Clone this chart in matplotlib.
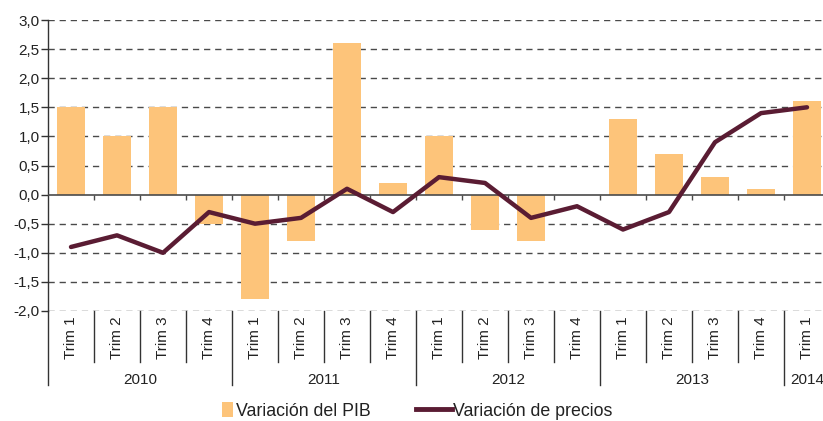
import matplotlib.pyplot as plt
from matplotlib.patches import Patch
from matplotlib.lines import Line2D
import matplotlib.transforms as mtransforms

plt.rcParams['font.family'] = ['Liberation Sans', 'DejaVu Sans']

years = ['2010', '2011', '2012', '2013', '2014']
quarters = ['Trim 1', 'Trim 2', 'Trim 3', 'Trim 4'] * 4 + ['Trim 1']
pib = [1.5, 1.0, 1.5, -0.5, -1.8, -0.8, 2.6, 0.2, 1.0, -0.6, -0.8, 0.0, 1.3, 0.7, 0.3, 0.1, 1.6]
precios = [-0.9, -0.7, -1.0, -0.3, -0.5, -0.4, 0.1, -0.3, 0.3, 0.2, -0.4, -0.2, -0.6, -0.3, 0.9, 1.4, 1.5]
yticks = [-2.0, -1.5, -1.0, -0.5, 0.0, 0.5, 1.0, 1.5, 2.0, 2.5, 3.0]

bar_color = '#fdc47a'
line_color = '#5a1c33'
axis_color = '#333333'
text_color = '#222222'

W, H = 823, 421
fig = plt.figure(figsize=(W / 100, H / 100), dpi=100)
ax = fig.add_axes([48 / W, 110 / H, (830 - 48) / W, 291 / H])

n = len(pib)
x = list(range(n))
ax.bar(x, pib, width=0.59, color=bar_color, zorder=2)
ax.plot(x, precios, color=line_color, lw=3.2, solid_capstyle='round',
        solid_joinstyle='round', zorder=4)

ax.set_xlim(-0.5, n - 0.5)
ax.set_ylim(-2.0, 3.0)
ax.set_yticks(yticks)
ax.set_yticklabels([f'{v:.1f}'.replace('.', ',') for v in yticks], fontsize=11, color=text_color)
ax.set_xticks([])

for v in yticks:
    if v != 0:
        ax.axhline(v, color='#4a4a4a', lw=1.0, ls=(0, (4.5, 3.5)), zorder=1)
ax.axhline(0, color='#4a4a4a', lw=1.2, zorder=3)
ax.vlines([i - 0.5 for i in range(1, n)], -0.09, 0, color='#4a4a4a', lw=1.0, zorder=3)

for s in ['top', 'right', 'bottom']:
    ax.spines[s].set_visible(False)
ax.spines['left'].set_color(axis_color)
ax.spines['left'].set_linewidth(1.0)
ax.tick_params(axis='y', length=5, width=1.0, color=axis_color, pad=1)

# category axis below the plot
trans = mtransforms.blended_transform_factory(ax.transData, ax.transAxes)
for i, q in enumerate(quarters):
    ax.text(i, -0.09, q, rotation=90, ha='center', va='center', fontsize=11,
            color=text_color, transform=trans)
for k in range(n + 1):
    bottom = -0.255 if k % 4 == 0 else -0.175
    ax.plot([k - 0.5, k - 0.5], [0, bottom], color=axis_color, lw=1.0,
            transform=trans, clip_on=False)
for j, yr in enumerate(years):
    start = 4 * j
    end = min(start + 4, n)
    ax.text((start + end - 1) / 2, -0.237, yr, ha='center', va='center',
            fontsize=11, color=text_color, transform=trans)

# legend
fig.legend(handles=[Patch(facecolor=bar_color, edgecolor='none', label='Variación del PIB')],
           loc='center left', bbox_to_anchor=(206 / W, 1 - 411 / H), frameon=False,
           handlelength=0.62, handleheight=0.95, handletextpad=0.15, fontsize=12.8,
           labelcolor=text_color)
fig.legend(handles=[Line2D([], [], color=line_color, lw=3.5, label='Variación de precios')],
           loc='center left', bbox_to_anchor=(400 / W, 1 - 411 / H), frameon=False,
           handlelength=2.0, handletextpad=0.1, fontsize=12.8, labelcolor=text_color)

fig.savefig('out.png', dpi=100)
